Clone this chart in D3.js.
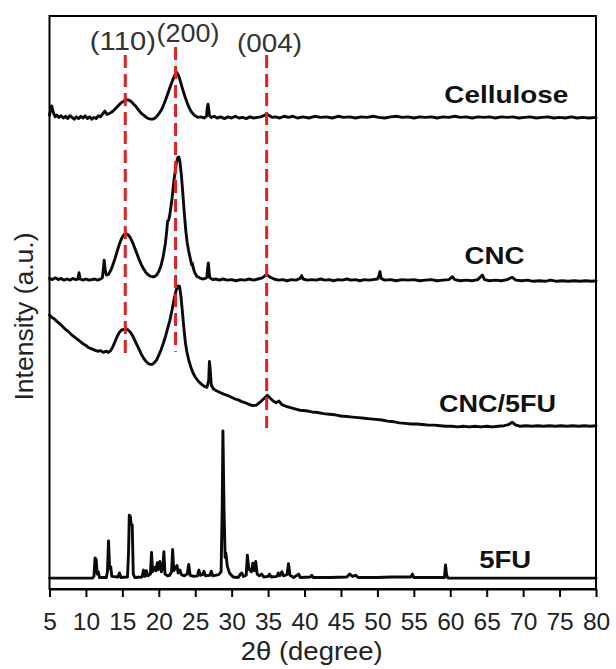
<!DOCTYPE html>
<html>
<head>
<meta charset="utf-8">
<script src="https://cdn.jsdelivr.net/npm/d3@7"></script>
<style>
  html, body { margin: 0; padding: 0; background: #fff; }
  svg { display: block; font-family: 'Liberation Sans', Arial, sans-serif; }
</style>
</head>
<body>
<svg id="chart" width="616" height="669"></svg>
<script>
// XRD patterns, stacked (2θ in degrees, intensity in a.u. with vertical offsets)
const cellulose = [
  [5.0,82.7],[5.15,83.6],[5.3,84.3],[5.45,83.5],[5.6,82.9],[5.8,82.4],[6.0,82.7],[6.3,82.3],[6.6,82.6],[6.9,82.2],
  [7.2,82.5],[7.5,82.1],[7.8,82.6],[8.1,82.3],[8.4,82.0],[8.7,82.4],[9.0,82.1],[9.3,82.5],[9.6,82.2],[9.9,82.6],
  [10.2,82.1],[10.5,82.4],[10.8,82.0],[11.1,82.3],[11.4,82.1],[11.7,82.6],[12.0,82.4],[12.3,82.9],[12.6,83.4],[12.9,82.8],
  [13.2,83.0],[13.5,83.2],[13.8,83.5],[14.1,83.9],[14.4,84.3],[14.7,84.7],[15.0,85.0],[15.3,85.2],[15.6,85.4],[15.9,85.3],
  [16.2,85.1],[16.5,84.7],[16.8,84.3],[17.1,83.8],[17.4,83.3],[17.7,82.9],[18.0,82.6],[18.3,82.3],[18.6,82.1],[18.9,82.0],
  [19.2,82.0],[19.5,82.2],[19.8,82.6],[20.1,83.1],[20.4,83.7],[20.7,84.6],[21.0,85.6],[21.3,86.7],[21.6,87.8],[21.9,88.8],
  [22.2,89.7],[22.4,90.2],[22.6,89.9],[22.8,89.3],[23.0,88.4],[23.3,87.1],[23.6,85.9],[23.9,84.8],[24.2,83.9],[24.5,83.2],
  [24.8,82.8],[25.1,82.5],[25.4,82.3],[25.8,82.4],[26.2,82.2],[26.55,82.5],[26.65,84.0],[26.75,84.6],[26.85,83.8],[26.95,82.6],
  [27.2,82.3],[27.6,82.5],[28.0,82.2],[28.5,82.4],[29.0,82.1],[29.5,82.4],[30.0,82.2],[30.5,82.5],[31.0,82.2],[31.5,82.3],
  [32.0,82.1],[32.5,82.4],[33.0,82.2],[33.5,82.3],[34.0,82.4],[34.4,82.6],[34.8,82.9],[35.2,82.6],[35.6,82.3],[36.0,82.4],
  [36.6,82.2],[37.2,82.5],[37.8,82.3],[38.4,82.5],[39.0,82.2],[39.8,82.4],[40.6,82.2],[41.4,82.5],[42.2,82.3],[43.0,82.4],
  [43.8,82.2],[44.6,82.5],[45.4,82.3],[46.2,82.4],[47.0,82.2],[47.8,82.4],[48.6,82.3],[49.4,82.5],[50.2,82.3],[51.0,82.2],
  [51.8,82.4],[52.6,82.5],[53.4,82.3],[54.2,82.4],[55.0,82.2],[55.8,82.4],[56.6,82.3],[57.4,82.4],[58.2,82.2],[59.0,82.4],
  [59.8,82.3],[60.6,82.5],[61.4,82.3],[62.2,82.4],[63.0,82.2],[63.8,82.4],[64.6,82.3],[65.4,82.4],[66.2,82.2],[67.0,82.4],
  [67.8,82.3],[68.6,82.4],[69.4,82.2],[70.2,82.3],[71.0,82.4],[71.8,82.2],[72.6,82.3],[73.4,82.4],[74.2,82.2],[75.0,82.3],
  [75.8,82.2],[76.6,82.4],[77.4,82.2],[78.2,82.3],[79.0,82.2],[80.0,82.3]
];

const cnc = [
  [5.0,54.2],[5.4,54.0],[5.8,54.3],[6.2,54.0],[6.6,54.2],[7.0,53.9],[7.4,54.1],[7.8,53.9],[8.2,54.2],[8.6,54.0],
  [8.9,54.1],[9.05,55.2],[9.2,54.1],[9.6,53.9],[10.0,54.1],[10.4,53.9],[10.8,54.0],[11.2,54.1],[11.6,53.9],[12.0,54.1],
  [12.25,54.3],[12.4,56.0],[12.5,57.4],[12.65,55.6],[12.8,54.8],[13.1,54.9],[13.4,55.6],[13.7,56.6],[14.0,57.7],[14.3,59.0],
  [14.6,60.2],[14.9,61.2],[15.2,61.8],[15.5,62.0],[15.8,61.8],[16.1,61.3],[16.4,60.5],[16.7,59.5],[17.0,58.5],[17.3,57.5],
  [17.6,56.6],[17.9,55.9],[18.2,55.3],[18.5,54.9],[18.8,54.6],[19.1,54.5],[19.4,54.5],[19.7,54.8],[20.0,55.4],[20.3,56.4],
  [20.6,58.0],[20.9,60.3],[21.1,62.6],[21.2,64.2],[21.35,64.4],[21.5,65.2],[21.8,68.0],[22.1,71.5],[22.4,74.3],[22.6,75.3],
  [22.75,75.4],[22.9,74.6],[23.1,72.2],[23.3,69.0],[23.5,65.6],[23.7,62.6],[23.9,60.4],[24.1,59.0],[24.3,57.8],[24.5,56.6],
  [24.6,56.9],[24.7,56.2],[24.9,55.3],[25.2,54.6],[25.6,54.3],[26.0,54.1],[26.4,54.2],[26.6,54.4],[26.7,56.0],[26.8,56.9],
  [26.9,55.4],[27.0,54.3],[27.4,54.0],[27.8,54.1],[28.3,53.9],[28.8,54.1],[29.4,53.9],[30.0,54.0],[30.6,53.8],[31.2,54.0],
  [31.8,53.9],[32.4,54.1],[33.0,53.9],[33.6,54.1],[34.2,54.3],[34.8,54.9],[35.3,54.4],[35.8,54.1],[36.4,53.9],[37.0,54.0],
  [37.6,53.8],[38.2,54.0],[38.8,53.9],[39.4,54.2],[39.6,54.7],[39.8,54.1],[40.4,53.9],[41.0,54.0],[41.6,53.9],[42.2,54.1],
  [42.8,53.9],[43.4,54.0],[44.0,53.8],[44.6,54.0],[45.2,53.9],[45.8,54.1],[46.4,53.9],[47.0,54.0],[47.6,53.8],[48.2,54.0],
  [48.8,53.9],[49.4,54.0],[50.0,54.1],[50.2,54.6],[50.35,55.4],[50.5,54.2],[51.0,53.9],[51.8,54.0],[52.6,53.8],[53.4,54.0],
  [54.2,53.9],[55.0,54.0],[55.8,53.8],[56.6,53.9],[57.4,54.0],[58.2,53.8],[59.0,53.9],[59.8,54.0],[60.3,54.5],[60.6,54.0],
  [61.4,53.8],[62.2,53.9],[63.0,53.8],[63.8,54.0],[64.4,54.8],[64.7,54.0],[65.4,53.8],[66.2,53.9],[67.0,53.8],[67.8,54.0],
  [68.5,54.4],[69.0,53.9],[69.8,53.8],[70.6,53.9],[71.4,53.7],[72.2,53.8],[73.0,53.7],[73.8,53.9],[74.6,53.7],[75.4,53.8],
  [76.2,53.7],[77.0,53.8],[77.8,53.7],[78.6,53.8],[79.4,53.7],[80.0,53.8]
];

const cnc5fu = [
  [5.0,47.8],[5.3,47.4],[5.6,47.2],[6.0,46.7],[6.4,46.3],[6.8,45.8],[7.2,45.3],[7.6,44.9],[8.0,44.4],[8.4,44.0],
  [8.8,43.6],[9.2,43.2],[9.6,42.8],[10.0,42.5],[10.4,42.1],[10.8,41.9],[11.2,41.7],[11.6,41.5],[12.0,41.6],[12.4,41.3],
  [12.8,41.5],[13.1,41.3],[13.4,41.6],[13.7,42.3],[14.0,43.2],[14.3,44.1],[14.6,44.8],[14.9,45.2],[15.2,45.3],[15.5,45.4],
  [15.8,45.2],[16.1,44.8],[16.4,44.2],[16.7,43.4],[17.0,42.6],[17.3,41.8],[17.6,41.0],[17.9,40.3],[18.2,39.8],[18.5,39.4],
  [18.8,39.2],[19.1,39.2],[19.4,39.5],[19.7,40.0],[20.0,40.8],[20.3,41.7],[20.6,42.8],[20.9,44.0],[21.2,45.4],[21.5,46.8],
  [21.8,48.6],[22.1,50.6],[22.4,52.2],[22.65,52.9],[22.85,52.8],[23.05,51.0],[23.25,48.2],[23.45,45.4],[23.65,43.0],[23.85,41.4],
  [24.1,40.0],[24.4,38.7],[24.7,37.7],[25.0,37.0],[25.4,36.3],[25.8,35.8],[26.2,35.4],[26.6,35.2],[26.85,36.4],[26.95,39.7],
  [27.05,38.4],[27.2,35.6],[27.5,34.9],[27.9,34.6],[28.4,34.3],[28.9,34.0],[29.4,33.8],[29.9,33.5],[30.4,33.2],[30.9,33.0],
  [31.4,32.7],[31.9,32.5],[32.4,32.2],[32.9,32.0],[33.4,32.1],[33.9,32.6],[34.4,33.2],[34.9,33.8],[35.3,33.3],[35.7,32.8],
  [36.1,32.5],[36.5,32.8],[36.8,32.3],[37.2,32.0],[37.7,31.8],[38.2,31.6],[38.8,31.4],[39.4,31.2],[40.2,31.1],[41.0,30.9],
  [41.8,30.8],[42.6,30.6],[43.4,30.5],[44.2,30.4],[45.0,30.2],[45.8,30.1],[46.6,30.0],[47.4,29.9],[48.2,29.8],[49.0,29.7],
  [49.8,29.6],[50.6,29.5],[51.4,29.3],[52.2,29.2],[53.0,29.0],[53.8,28.9],[54.6,28.8],[55.4,28.8],[56.2,28.7],[57.0,28.6],
  [57.8,28.6],[58.6,28.5],[59.4,28.4],[60.2,28.4],[61.0,28.3],[61.8,28.4],[62.6,28.3],[63.4,28.4],[64.2,28.3],[65.0,28.4],
  [65.8,28.3],[66.6,28.4],[67.4,28.5],[68.0,28.7],[68.5,29.1],[69.0,28.6],[69.6,28.4],[70.4,28.5],[71.2,28.4],[72.0,28.5],
  [72.8,28.4],[73.6,28.5],[74.4,28.4],[75.2,28.5],[76.0,28.4],[76.8,28.5],[77.6,28.4],[78.4,28.5],[79.2,28.4],[80.0,28.5]
];

const fu5 = [
  [5.0,1.9],[8.0,1.9],[10.9,1.9],[11.1,2.2],[11.25,5.4],[11.4,5.2],[11.55,2.6],[11.7,3.0],[11.85,2.0],[12.8,2.0],
  [12.95,3.0],[13.1,8.4],[13.25,3.6],[13.4,3.9],[13.55,2.2],[14.4,2.1],[14.6,2.8],[14.8,2.0],[15.7,2.1],[15.85,6.5],
  [15.95,12.9],[16.1,12.6],[16.2,11.3],[16.35,11.2],[16.5,2.6],[16.7,2.0],[17.7,2.1],[17.9,3.3],[18.1,2.2],[18.3,3.2],
  [18.5,2.3],[18.85,2.6],[19.0,6.4],[19.15,3.0],[19.4,3.8],[19.6,3.2],[19.8,4.6],[19.95,3.4],[20.15,4.8],[20.35,3.0],
  [20.55,3.9],[20.7,6.5],[20.85,2.6],[21.2,2.3],[21.5,2.4],[21.75,3.0],[21.9,6.9],[22.05,3.2],[22.35,3.8],[22.5,4.1],
  [22.65,2.8],[22.9,3.3],[23.1,2.5],[23.5,2.3],[23.9,2.6],[24.1,4.3],[24.3,2.4],[24.8,2.2],[25.3,2.3],[25.5,3.3],
  [25.7,2.4],[26.0,2.5],[26.2,3.1],[26.4,2.3],[27.0,2.4],[27.2,3.1],[27.4,2.3],[28.2,2.5],[28.55,3.0],[28.7,14.0],
  [28.8,27.6],[28.95,14.0],[29.1,5.5],[29.2,6.3],[29.4,4.0],[29.7,2.8],[30.2,2.1],[30.9,2.0],[31.2,2.6],[31.4,2.8],
  [31.6,2.2],[32.0,2.4],[32.15,5.9],[32.35,3.5],[32.7,3.0],[32.9,4.5],[33.1,3.2],[33.3,4.8],[33.5,2.6],[33.8,2.3],
  [34.1,2.6],[34.4,2.1],[35.0,2.2],[35.2,2.6],[35.4,2.1],[36.2,2.2],[36.4,2.8],[36.6,2.3],[36.9,3.0],[37.1,2.3],
  [37.6,2.5],[37.8,4.4],[38.0,2.4],[38.5,2.0],[39.2,2.6],[39.4,2.0],[40.8,2.1],[41.0,2.4],[41.2,2.0],[43.5,2.0],
  [45.8,2.1],[46.2,2.6],[46.6,2.2],[47.0,2.4],[47.4,2.0],[50.0,2.0],[52.0,2.1],[54.6,2.1],[54.8,2.6],[55.0,2.0],
  [57.0,2.0],[59.2,2.0],[59.35,4.2],[59.5,2.4],[59.7,1.9],[65.0,1.9],[70.0,1.9],[75.0,1.9],[80.0,1.9]
];

// Crystal planes of cellulose I marked by dashed guides
const planeLabels = ["(110)", "(200)", "(004)"];
const planeAngles = [15.4, 22.3, 34.8];

const seriesNames = ["Cellulose", "CNC", "CNC/5FU", "5FU"];
const xTicks = [5, 10, 15, 20, 25, 30, 35, 40, 45, 50, 55, 60, 65, 70, 75, 80];

// ---- layout ----
const svg = d3.select("#chart");
const plot = { left: 49.5, right: 596, top: 16, bottom: 589 };

const x = d3.scaleLinear().domain([5, 80]).range([plot.left, plot.right]);
const y = d3.scaleLinear().domain([0, 100]).range([plot.bottom, plot.top]);

const line = d3.line().x(d => x(d[0])).y(d => y(d[1]));

// traces
const traces = [cellulose, cnc, cnc5fu, fu5];
svg.append("g")
  .selectAll("path")
  .data(traces)
  .join("path")
  .attr("d", line)
  .attr("fill", "none")
  .attr("stroke", "#0a0a0a")
  .attr("stroke-width", 2.9)
  .attr("stroke-linejoin", "round")
  .attr("stroke-linecap", "round");

// dashed reflection guides (top and bottom ends in intensity units)
const guideTop = [93.2, 94.6, 93.2];
const guideBottom = [40.3, 41.4, 28.1];
svg.append("g")
  .selectAll("line")
  .data(planeAngles)
  .join("line")
  .attr("x1", d => x(d)).attr("x2", d => x(d))
  .attr("y1", (d, i) => y(guideTop[i]))
  .attr("y2", (d, i) => y(guideBottom[i]))
  .attr("stroke", "#e0221f")
  .attr("stroke-width", 3)
  .attr("stroke-dasharray", "13,6");

// plane labels
const planeLabelPos = [[15.07, 94.1, 66], [24.0, 95.5, 63], [35.2, 93.8, 65]];
svg.append("g")
  .selectAll("text")
  .data(planeLabels)
  .join("text")
  .attr("x", (d, i) => x(planeLabelPos[i][0]))
  .attr("y", (d, i) => y(planeLabelPos[i][1]))
  .attr("text-anchor", "middle")
  .attr("font-size", 25)
  .attr("fill", "#333")
  .attr("textLength", (d, i) => planeLabelPos[i][2])
  .attr("lengthAdjust", "spacingAndGlyphs")
  .text(d => d);

// series labels (right-aligned)
const seriesLabelPos = [[76.2, 84.8, 124], [70.2, 56.8, 60], [74.5, 30.9, 117], [71.1, 3.6, 52]];
svg.append("g")
  .selectAll("text")
  .data(seriesNames)
  .join("text")
  .attr("x", (d, i) => x(seriesLabelPos[i][0]))
  .attr("y", (d, i) => y(seriesLabelPos[i][1]))
  .attr("text-anchor", "end")
  .attr("font-size", 24)
  .attr("font-weight", "bold")
  .attr("fill", "#111")
  .attr("textLength", (d, i) => seriesLabelPos[i][2])
  .attr("lengthAdjust", "spacingAndGlyphs")
  .text(d => d);

// frame
svg.append("rect")
  .attr("x", plot.left).attr("y", plot.top)
  .attr("width", plot.right - plot.left)
  .attr("height", plot.bottom - plot.top)
  .attr("fill", "none")
  .attr("stroke", "#000")
  .attr("stroke-width", 2);

// bottom axis
const xAxis = d3.axisBottom(x)
  .tickValues(xTicks)
  .tickSize(8)
  .tickSizeOuter(0)
  .tickPadding(16)
  .tickFormat(d3.format("d"));

const gx = svg.append("g")
  .attr("transform", `translate(0,${plot.bottom})`)
  .call(xAxis);
gx.select(".domain").attr("stroke", "#000").attr("stroke-width", 2);
gx.selectAll(".tick line").attr("stroke", "#000").attr("stroke-width", 2);
gx.selectAll(".tick text")
  .attr("font-family", "'Liberation Sans', Arial, sans-serif")
  .attr("font-size", 24.5)
  .attr("fill", "#222");

// axis titles
svg.append("text")
  .attr("x", (plot.left + plot.right) / 2 - 11)
  .attr("y", 660)
  .attr("text-anchor", "middle")
  .attr("font-size", 26)
  .attr("fill", "#222")
  .attr("textLength", 142)
  .attr("lengthAdjust", "spacingAndGlyphs")
  .text("2θ (degree)");

svg.append("text")
  .attr("transform", `translate(33,${(plot.top + plot.bottom) / 2 + 14}) rotate(-90)`)
  .attr("text-anchor", "middle")
  .attr("font-size", 26)
  .attr("fill", "#222")
  .attr("textLength", 168)
  .attr("lengthAdjust", "spacingAndGlyphs")
  .text("Intensity (a.u.)");
</script>
</body>
</html>
